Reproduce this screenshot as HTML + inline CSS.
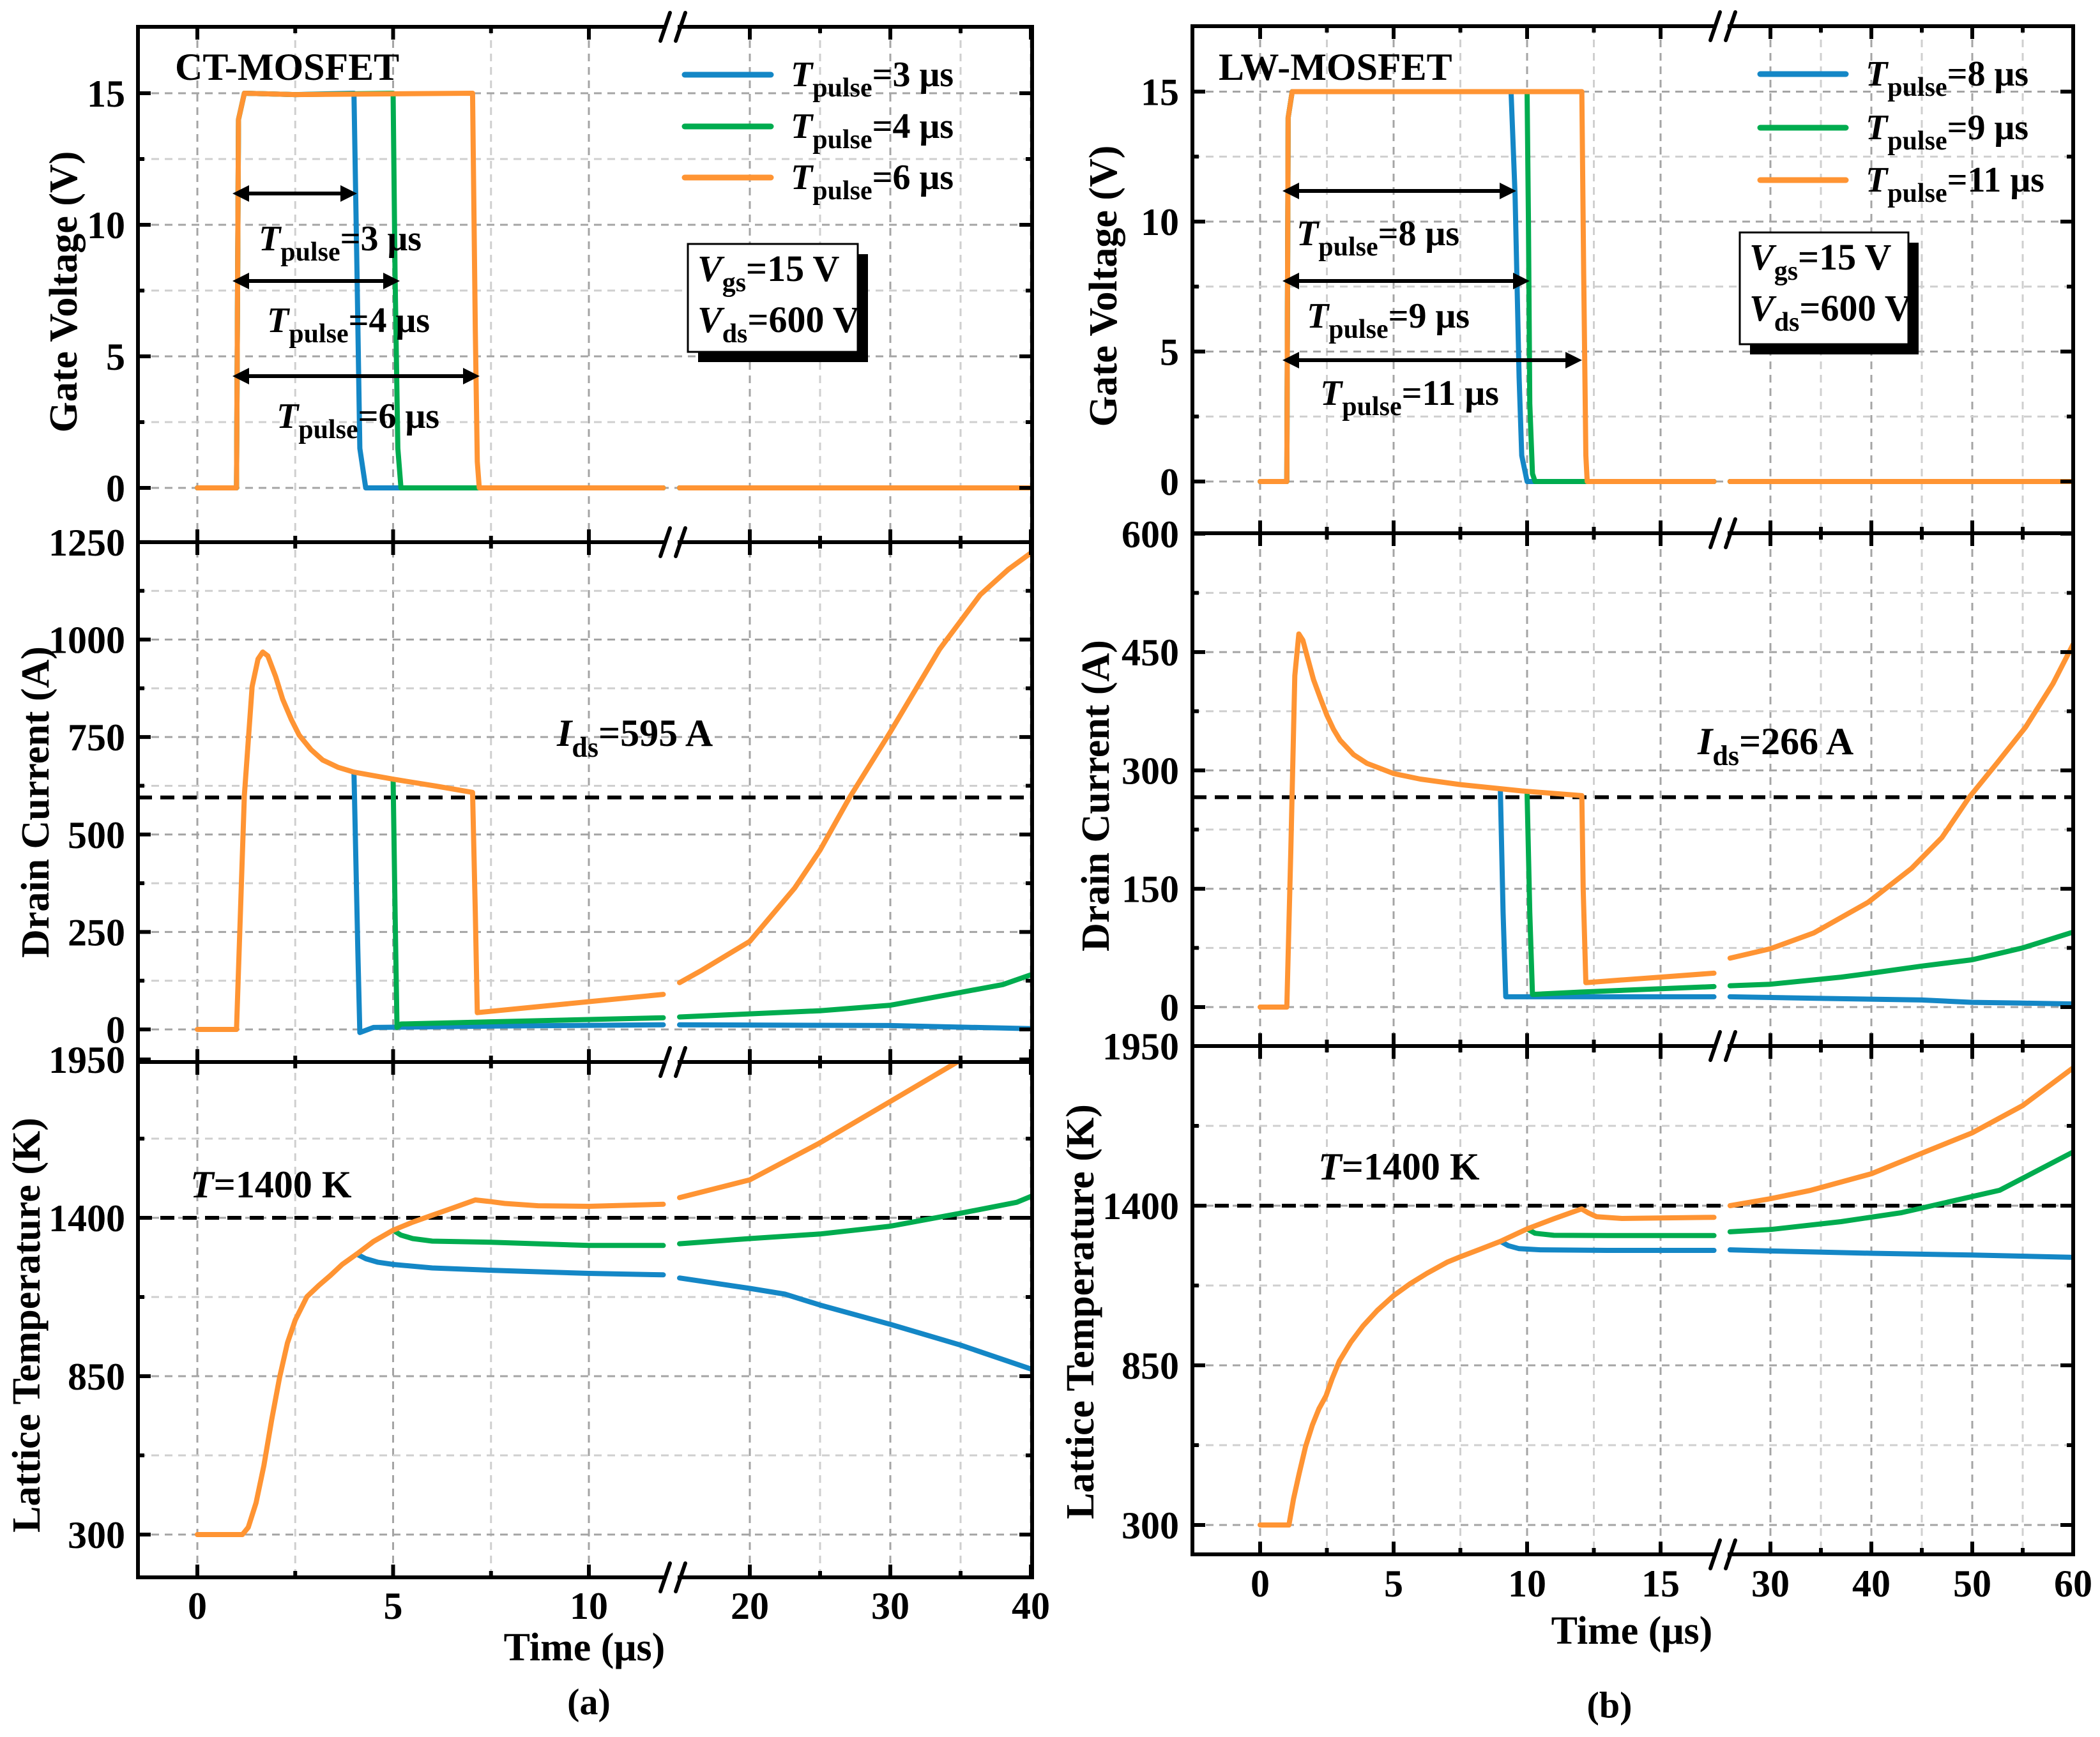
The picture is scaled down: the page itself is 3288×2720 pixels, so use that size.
<!DOCTYPE html>
<html><head><meta charset="utf-8"><style>
html,body{margin:0;padding:0;background:#fff;}
svg{display:block;font-family:"Liberation Serif",serif;font-weight:bold;}
</style></head><body>
<svg id="fig" xmlns="http://www.w3.org/2000/svg" width="3288" height="2720" viewBox="0 0 3288 2720">
<rect x="0" y="0" width="3288" height="2720" fill="#fff"/>
</svg>
<script>
// ===== Panel (a) CT-MOSFET data =====
const aGateBlueT=[0,1,1.05,1.2,2.5,4.0,4.08,4.15,4.3,11.9,15,40];
const aGateBlueV=[0,0,14,15,14.95,15,8,1.5,0,0,0,0];
const aGateGreenT=[0,1,1.05,1.2,2.5,5.0,5.05,5.12,5.2,11.9,15,40];
const aGateGreenV=[0,0,14,15,14.95,15,8,1.5,0,0,0,0];
const aGateOrangeT=[0,1,1.05,1.2,2.5,7.03,7.1,7.15,7.2,11.9,15,40];
const aGateOrangeV=[0,0,14,15,14.95,15,6,1,0,0,0,0];

const aDrainBlueT=[4.0,4.1,4.15,4.5,8,11.9,15,30,40];
const aDrainBlueV=[660,200,-8,5,9,12,12,10,2];
const aDrainGreenT=[5.0,5.05,5.1,5.2,11.9,15,20,25,30,35,38,40];
const aDrainGreenV=[642,300,5,14,30,32,40,48,62,95,115,140];
const aDrainOrangeT=[0,1,1.2,1.4,1.55,1.67,1.8,2.0,2.18,2.4,2.6,2.9,3.2,3.6,4.0,5.0,6.1,7.03,7.1,7.15,11.9,15,16.5,20,23.2,25,27.1,30,33.5,36.4,38.4,40];
const aDrainOrangeV=[0,0,600,880,950,968,958,905,847,795,755,718,691,672,660,642,624,608,300,43,90,120,150,226,363,460,595,763,975,1115,1180,1222];

const aTempBlueT=[4.07,4.3,4.6,5,6,7.5,10,11.9,15,20,22.5,25,30,35,40];
const aTempBlueV=[1274,1258,1246,1238,1226,1218,1207,1202,1191,1155,1135,1097,1030,958,875];
const aTempGreenT=[5.0,5.2,5.5,6,7.5,10,11.9,15,20,25,30,35,39,40];
const aTempGreenV=[1357,1340,1328,1319,1315,1304,1304,1310,1328,1344,1371,1416,1454,1474];
const aTempOrangeT=[0,1.15,1.3,1.5,1.7,1.9,2.1,2.3,2.5,2.8,3.1,3.4,3.7,4.07,4.5,5,5.5,5.96,6.5,7.1,7.5,7.85,8.7,10,11.9,15,20,24.9,30,35,37];
const aTempOrangeV=[300,300,325,410,540,700,845,965,1045,1126,1165,1200,1238,1274,1318,1357,1385,1407,1433,1462,1456,1450,1442,1440,1447,1470,1532,1658,1804,1948,2000];

// ===== Panel (b) LW-MOSFET data =====
const bGateBlueT=[0,1,1.05,1.2,9.4,9.55,9.7,9.8,10,17,26,60];
const bGateBlueV=[0,0,14,15,15,11,4,1,0,0,0,0];
const bGateGreenT=[0,1,1.05,1.2,10.0,10.05,10.1,10.2,10.3,17,26,60];
const bGateGreenV=[0,0,14,15,15,10,3,0.3,0,0,0,0];
const bGateOrangeT=[0,1,1.05,1.2,12.05,12.12,12.2,12.25,17,26,60];
const bGateOrangeV=[0,0,14,15,15,8,1,0,0,0,0];

const bDrainBlueT=[9.0,9.1,9.2,12,17,26,35,45,50,55,60];
const bDrainBlueV=[273,120,13,13,13,13,11,9,6,5,4];
const bDrainGreenT=[10.0,10.1,10.2,12,17,26,30,37,40,45,50,55,60];
const bDrainGreenV=[271,120,16,19,26,27,29,38,43,52,60,75,95];
const bDrainOrangeT=[0,1,1.15,1.3,1.45,1.6,1.8,2,2.25,2.5,2.75,3,3.5,4,5,6,7.5,9.8,12.05,12.1,12.2,13,15,17,26,30,34.3,39.7,44,47,49.7,52.5,55.3,58,60];
const bDrainOrangeV=[0,0,200,420,473,465,440,415,392,370,352,338,320,309,296,289,282,274,268,150,31,33,38,43,62,74,94,133,176,215,266,310,355,410,460];

const bTempBlueT=[9.0,9.3,9.7,10.5,13,17,26,30,40,50,60];
const bTempBlueV=[1277,1262,1252,1248,1246,1246,1248,1244,1236,1230,1222];
const bTempGreenT=[10,10.3,11,13,17,26,30,37,43,52.7,60];
const bTempGreenV=[1320,1305,1298,1297,1297,1310,1318,1345,1376,1453,1585];
const bTempOrangeT=[0,1.08,1.25,1.46,1.7,1.96,2.2,2.47,2.7,2.97,3.4,3.85,4.4,5,5.6,6.25,7,7.5,8.3,9,10,11,12.04,12.3,12.6,13.55,17,26,30,34,40,45.3,50,55,60];
const bTempOrangeV=[300,300,390,476,570,645,700,745,805,865,930,985,1040,1090,1130,1167,1205,1224,1252,1277,1320,1355,1389,1375,1362,1356,1360,1400,1424,1453,1510,1585,1651,1745,1875];

// ===== Tick values =====
const aXMajorLeft=[0,5,10], aXMinorLeft=[2.5,7.5], aXMajorRight=[20,30,40], aXMinorRight=[25,35];
const bXMajorLeft=[0,5,10,15], bXMinorLeft=[2.5,7.5,12.5], bXMajorRight=[30,40,50,60], bXMinorRight=[35,45,55];
const gateMajor=[0,5,10,15], gateMinor=[2.5,7.5,12.5];
const aDrainMajor=[0,250,500,750,1000,1250], aDrainMinor=[125,375,625,875,1125];
const bDrainMajor=[0,150,300,450,600], bDrainMinor=[75,225,375,525];
const tempMajor=[300,850,1400,1950], tempMinor=[575,1125,1675];
const aIdsRef=595, bIdsRef=266, tempRef=1400;

const NS="http://www.w3.org/2000/svg";
const svg=document.getElementById('fig');
function mk(tag,attrs,parent){const e=document.createElementNS(NS,tag);for(const k in attrs)e.setAttribute(k,attrs[k]);(parent||svg).appendChild(e);return e;}

const COL={blue:'#1487c6',green:'#00ac4f',orange:'#ff9433'};

const P={
 a:{L:216,R:1616,top:42,s1:849,s2:1663,bot:2470,brk:1051,split:13,
    x:t=>t<=13?309+61.3*t:1174+22.0*(t-20),
    gate:v=>764-41.2*v, drain:v=>1612-0.6105*v, temp:v=>1907-(v-1400)*248/550,
    ylab:196, xlabY:2535},
 b:{L:1867,R:3246,top:41,s1:835,s2:1638,bot:2434,brk:2695,split:20,
    x:t=>t<=20?1973+41.8*t:2772+15.8*(t-30),
    gate:v=>754-40.7*v, drain:v=>1577-1.2354*v, temp:v=>1888-(v-1400)*250/550,
    ylab:1846, xlabY:2500}
};
const ROWS={gate:['top','s1'],drain:['s1','s2'],temp:['s2','bot']};

function grid(p,key){
  const g=mk('g',{});
  
  
  const xs=key==='a'?[[aXMajorLeft,1],[aXMinorLeft,0],[aXMajorRight,1],[aXMinorRight,0]]:[[bXMajorLeft,1],[bXMinorLeft,0],[bXMajorRight,1],[bXMinorRight,0]];
  xs.forEach(([arr,maj])=>arr.forEach(t=>{const X=p.x(t);mk('line',{x1:X,x2:X,y1:p.top,y2:p.bot,stroke:maj?'#a4a4a4':'#cfcfcf','stroke-width':3,'stroke-dasharray':'12 9'},g);}));
  const ys=[['gate',gateMajor,gateMinor],['drain',key==='a'?aDrainMajor:bDrainMajor,key==='a'?aDrainMinor:bDrainMinor],['temp',tempMajor,tempMinor]];
  ys.forEach(([r,maj,min])=>{
    const [t0,t1]=ROWS[r];
    [[maj,1],[min,0]].forEach(([arr,m])=>arr.forEach(v=>{const Y=p[r](v);if(Y<p[t0]+4||Y>p[t1]-4)return;mk('line',{x1:p.L,x2:p.R,y1:Y,y2:Y,stroke:m?'#a4a4a4':'#cfcfcf','stroke-width':3,'stroke-dasharray':'12 9'},g);}));
  });
}

function series(p,key,row,name,T,V,color){
  const clipId=key+row+'clip';
  if(!document.getElementById(clipId)){
    const cp=mk('clipPath',{id:clipId});
    mk('rect',{x:p.L,y:p[ROWS[row][0]],width:p.R-p.L,height:p[ROWS[row][1]]-p[ROWS[row][0]]},cp);
  }
  const segs=[[],[]];
  for(let i=0;i<T.length;i++){segs[T[i]<=p.split?0:1].push([p.x(T[i]),p[row](V[i])]);}
  segs.forEach((s,si)=>{
    if(s.length<2)return;
    const path=mk('path',{d:'M'+s.map(q=>q[0].toFixed(1)+','+q[1].toFixed(1)).join('L'),fill:'none',stroke:color,'stroke-width':8,'stroke-linejoin':'round','stroke-linecap':'round','clip-path':'url(#'+clipId+')'});
    
    
  });
}

function refline(p,key,row,val,name){
  const Y=p[row](val);
  const l=mk('line',{x1:p.L,x2:p.R,y1:Y,y2:Y,stroke:'#000','stroke-width':6,'stroke-dasharray':'22 13'});
  
  
}

function frame(p,key){
  const g=mk('g',{stroke:'#000','stroke-width':6,fill:'none'});
  
  
  mk('rect',{x:p.L,y:p.top,width:p.R-p.L,height:p.bot-p.top},g);
  mk('line',{x1:p.L,x2:p.R,y1:p.s1,y2:p.s1},g);
  mk('line',{x1:p.L,x2:p.R,y1:p.s2,y2:p.s2},g);
  const xs=key==='a'?[[aXMajorLeft,20],[aXMinorLeft,10],[aXMajorRight,20],[aXMinorRight,10]]:[[bXMajorLeft,20],[bXMinorLeft,10],[bXMajorRight,20],[bXMinorRight,10]];
  [p.top,p.s1,p.s2,p.bot].forEach((H,hi)=>{
    xs.forEach(([arr,len])=>arr.forEach(t=>{const X=p.x(t);
      const up=hi===0?0:len, dn=hi===3?0:len;
      mk('line',{x1:X,x2:X,y1:H-up,y2:H+dn},g);}));
  });
  const ys=[['gate',gateMajor,gateMinor],['drain',key==='a'?aDrainMajor:bDrainMajor,key==='a'?aDrainMinor:bDrainMinor],['temp',tempMajor,tempMinor]];
  ys.forEach(([r,maj,min])=>{
    [[maj,20],[min,10]].forEach(([arr,len])=>arr.forEach(v=>{const Y=p[r](v);
      mk('line',{x1:p.L,x2:p.L+len,y1:Y,y2:Y},g);mk('line',{x1:p.R-len,x2:p.R,y1:Y,y2:Y},g);}));
  });
  [p.top,p.s1,p.s2,p.bot].forEach(H=>{
    mk('rect',{x:p.brk-10,y:H-5,width:20,height:10,fill:'#fff',stroke:'none'},g);
    mk('line',{x1:p.brk-17,y1:H+22,x2:p.brk-2,y2:H-22,'stroke-width':6,'stroke-linecap':'round'},g);
    mk('line',{x1:p.brk+7,y1:H+22,x2:p.brk+22,y2:H-22,'stroke-width':6,'stroke-linecap':'round'},g);
  });
}

function txt(x,y,s,opts,parent){
  const t=mk('text',Object.assign({x:x,y:y,'font-size':58,fill:'#000'},opts||{}),parent);
  t.textContent=s;return t;
}

function tickLabels(p,key){
  const g=mk('g',{});
  
  
  const xl=key==='a'?aXMajorLeft.concat(aXMajorRight):bXMajorLeft.concat(bXMajorRight);
  xl.forEach(t=>txt(p.x(t),p.xlabY,String(t),{'text-anchor':'middle','font-size':60},g));
  const ys=[['gate',gateMajor],['drain',key==='a'?aDrainMajor:bDrainMajor],['temp',tempMajor]];
  ys.forEach(([r,arr])=>arr.forEach(v=>txt(p.ylab,p[r](v)+21,String(v),{'text-anchor':'end','font-size':60},g)));
}

function subText(x,y,main,sub,rest,fs,ss,parent,italic){
  const t=mk('text',{x:x,y:y,'font-size':fs,fill:'#000'},parent);
  const a=mk('tspan',{'font-style':italic===false?'normal':'italic'},t);a.textContent=main;
  const b=mk('tspan',{dy:Math.round(fs*0.28),'font-size':ss},t);b.textContent=sub;
  const c=mk('tspan',{dy:-Math.round(fs*0.28)},t);c.textContent=rest;
  return t;
}

function arrow(x1,x2,y,name){
  const g=mk('g',{});
  
  
  mk('line',{x1:x1+18,x2:x2-18,y1:y,y2:y,stroke:'#000','stroke-width':6},g);
  mk('polygon',{points:`${x1},${y} ${x1+26},${y-13} ${x1+26},${y+13}`,fill:'#000'},g);
  mk('polygon',{points:`${x2},${y} ${x2-26},${y-13} ${x2-26},${y+13}`,fill:'#000'},g);
}

function legend(key,x1,x2,ys,labels){
  const cols=[COL.blue,COL.green,COL.orange];
  ys.forEach((y,i)=>{
    const g=mk('g',{});
    
    
    mk('line',{x1:x1,x2:x2,y1:y,y2:y,stroke:cols[i],'stroke-width':9,'stroke-linecap':'round'},g);
    subText(x2+31,y+18,'T','pulse','='+labels[i]+' μs',56,42,g);
  });
}

function condBox(x,y,w,h,name){
  const g=mk('g',{});
  
  
  mk('rect',{x:x+16,y:y+16,width:w,height:h,fill:'#000'},g);
  mk('rect',{x:x,y:y,width:w,height:h,fill:'#fff',stroke:'#000','stroke-width':3},g);
  subText(x+15,y+58,'V','gs','=15 V',58,42,g);
  subText(x+15,y+138,'V','ds','=600 V',58,42,g);
}

function axisTitle(x,y,s,name,rot,fs){
  const t=txt(x,y,s,{'text-anchor':'middle','dominant-baseline':'central','font-size':fs||62,transform:rot?`rotate(-90 ${x} ${y})`:''});
  
  
}

const pa=P.a, pb=P.b;
grid(pa,'a'); grid(pb,'b');

refline(pa,'a','drain',aIdsRef,'a-ids-reference-line');
refline(pa,'a','temp',tempRef,'a-temp-reference-line');
refline(pb,'b','drain',bIdsRef,'b-ids-reference-line');
refline(pb,'b','temp',tempRef,'b-temp-reference-line');

series(pa,'a','gate','tpulse3',aGateBlueT,aGateBlueV,COL.blue);
series(pa,'a','gate','tpulse4',aGateGreenT,aGateGreenV,COL.green);
series(pa,'a','gate','tpulse6',aGateOrangeT,aGateOrangeV,COL.orange);
series(pa,'a','drain','tpulse3',aDrainBlueT,aDrainBlueV,COL.blue);
series(pa,'a','drain','tpulse4',aDrainGreenT,aDrainGreenV,COL.green);
series(pa,'a','drain','tpulse6',aDrainOrangeT,aDrainOrangeV,COL.orange);
series(pa,'a','temp','tpulse3',aTempBlueT,aTempBlueV,COL.blue);
series(pa,'a','temp','tpulse4',aTempGreenT,aTempGreenV,COL.green);
series(pa,'a','temp','tpulse6',aTempOrangeT,aTempOrangeV,COL.orange);

series(pb,'b','gate','tpulse8',bGateBlueT,bGateBlueV,COL.blue);
series(pb,'b','gate','tpulse9',bGateGreenT,bGateGreenV,COL.green);
series(pb,'b','gate','tpulse11',bGateOrangeT,bGateOrangeV,COL.orange);
series(pb,'b','drain','tpulse8',bDrainBlueT,bDrainBlueV,COL.blue);
series(pb,'b','drain','tpulse9',bDrainGreenT,bDrainGreenV,COL.green);
series(pb,'b','drain','tpulse11',bDrainOrangeT,bDrainOrangeV,COL.orange);
series(pb,'b','temp','tpulse8',bTempBlueT,bTempBlueV,COL.blue);
series(pb,'b','temp','tpulse9',bTempGreenT,bTempGreenV,COL.green);
series(pb,'b','temp','tpulse11',bTempOrangeT,bTempOrangeV,COL.orange);

frame(pa,'a'); frame(pb,'b');
tickLabels(pa,'a'); tickLabels(pb,'b');

axisTitle(100,457,'Gate Voltage (V)','a-gate-voltage-title',true);
axisTitle(56,1256,'Drain Current (A)','a-drain-current-title',true);
axisTitle(42,2075,'Lattice Temperature (K)','a-lattice-temperature-title',true);
axisTitle(1728,448,'Gate Voltage (V)','b-gate-voltage-title',true);
axisTitle(1716,1246,'Drain Current (A)','b-drain-current-title',true);
axisTitle(1692,2054,'Lattice Temperature (K)','b-lattice-temperature-title',true);
axisTitle(915,2580,'Time (μs)','a-x-axis-title',false);
axisTitle(2555,2554,'Time (μs)','b-x-axis-title',false);
axisTitle(922,2665,'(a)','a-panel-caption',false,58);
axisTitle(2520,2670,'(b)','b-panel-caption',false,58);

let t1=txt(274,125,'CT-MOSFET',{'font-size':60});  
let t2=txt(1908,125,'LW-MOSFET',{'font-size':60});  

legend('a',1072,1207,[117,198,278],['3','4','6']);
legend('b',2756,2890,[116,200,282],['8','9','11']);
condBox(1077,382,266,169,'a-conditions-box');
condBox(2724,364,264,175,'b-conditions-box');

arrow(364,559,303,'a-pulse-arrow-3us');
arrow(364,626,440,'a-pulse-arrow-4us');
arrow(364,751,589,'a-pulse-arrow-6us');
subText(405,392,'T','pulse','=3 μs',56,42);
subText(418,520,'T','pulse','=4 μs',56,42);
subText(433,670,'T','pulse','=6 μs',56,42);
arrow(2008,2374,299,'b-pulse-arrow-8us');
arrow(2008,2395,440,'b-pulse-arrow-9us');
arrow(2008,2477,564,'b-pulse-arrow-11us');
subText(2030,384,'T','pulse','=8 μs',56,42);
subText(2046,513,'T','pulse','=9 μs',56,42);
subText(2067,634,'T','pulse','=11 μs',56,42);

subText(872,1168,'I','ds','=595 A',60,44);
subText(2658,1181,'I','ds','=266 A',60,44);
const r1=txt(298,1875,'',{'font-size':60}); const r1a=mk('tspan',{'font-style':'italic'},r1); r1a.textContent='T'; const r1b=mk('tspan',{},r1); r1b.textContent='=1400 K';
 
const r2=txt(2064,1847,'',{'font-size':60}); const r2a=mk('tspan',{'font-style':'italic'},r2); r2a.textContent='T'; const r2b=mk('tspan',{},r2); r2b.textContent='=1400 K';
 
</script>
</body></html>
